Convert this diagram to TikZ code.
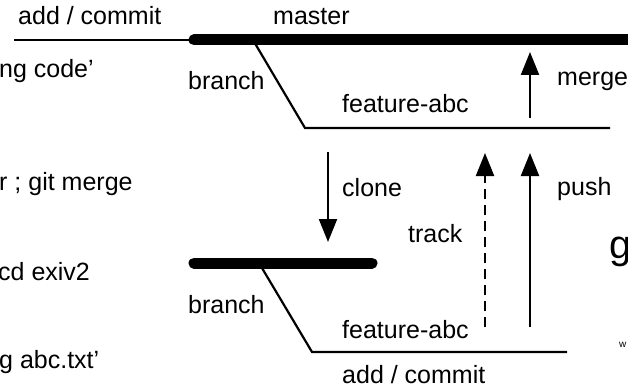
\documentclass[tikz,border=0pt]{standalone}
\usepackage{fontspec}
\setmainfont{Liberation Sans}
\usetikzlibrary{arrows.meta}
\tikzset{
  lbl/.style={inner sep=0pt, anchor=base west, font=\fontsize{25}{30}\selectfont},
  thin/.style={line width=2.2pt},
  thick/.style={line width=11pt, line cap=round},
  arr/.style={line width=2.2pt, -{Triangle[width=18pt,length=23pt]}},
  trackarr/.style={arr, dash pattern=on 10pt off 6pt}
}
\begin{document}
\begin{tikzpicture}[x=1pt,y=-1pt]
\useasboundingbox (0,0) rectangle (628,390);
\clip (0,0) rectangle (628,390);
% texts
\node[lbl] (t1) at (18,25) {add / commit};
\node[lbl] (t2) at (273,25) {master};
\node[lbl] (t3) at (-1,78) {ng code’};
\node[lbl] (t4) at (188,90) {branch};
\node[lbl] (t5) at (342,113) {feature-abc};
\node[lbl] (t6) at (557,86) {merge};
\node[lbl] (t7) at (-1,190) {r ; git merge};
\node[lbl] (t8) at (342,196) {clone};
\node[lbl] (t9) at (557,195) {push};
\node[lbl] (t10) at (408,242) {track};
\node[lbl] (t11) at (-2,280) {cd exiv2};
\node[lbl] (t12) at (188,313) {branch};
\node[lbl] (t13) at (342,338) {feature-abc};
\node[lbl] (t14) at (-1,368) {g abc.txt’};
\node[lbl] (t15) at (342,383) {add / commit};
\node[inner sep=0pt, anchor=base west, font=\fontsize{40}{44}\selectfont] (g) at (609,258) {g};
\node[inner sep=0pt, anchor=base west, font=\fontsize{10}{12}\selectfont] (w) at (619,347) {w};
% coordinates
\coordinate (thinA) at (14,40);
\coordinate (thinB) at (194,40);
\coordinate (mA) at (194,40);
\coordinate (mB) at (660,40);
\coordinate (d1a) at (253,40);
\coordinate (d1b) at (305,128);
\coordinate (f1) at (610,128);
\coordinate (cA) at (194,263);
\coordinate (cB) at (372,263);
\coordinate (d2a) at (259,263);
\coordinate (d2b) at (312,352);
\coordinate (f2) at (567,352);
\coordinate (mergeS) at (530,118);
\coordinate (mergeE) at (530,52);
\coordinate (cloneS) at (328,152);
\coordinate (cloneE) at (328,242);
\coordinate (trackS) at (485,327);
\coordinate (trackE) at (485,153);
\coordinate (pushS) at (530,327);
\coordinate (pushE) at (530,153);
% lines
\draw[thin] (thinA) -- (thinB);
\draw[thin, line join=miter] (d1a) -- (d1b) -- (f1);
\draw[thick] (mA) -- (mB);
\draw[thin, line join=miter] (d2a) -- (d2b) -- (f2);
\draw[thick] (cA) -- (cB);
% arrows
\draw[arr] (mergeS) -- (mergeE);
\draw[arr] (cloneS) -- (cloneE);
\draw[trackarr] (trackS) -- (trackE);
\draw[arr] (pushS) -- (pushE);
\end{tikzpicture}
\end{document}
